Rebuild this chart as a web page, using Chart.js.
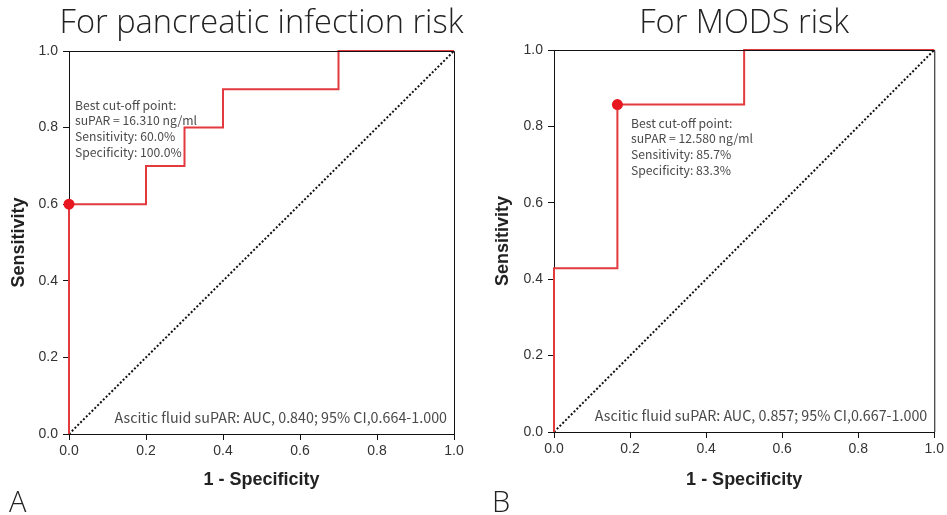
<!DOCTYPE html>
<html><head><meta charset="utf-8">
<script src="https://cdn.jsdelivr.net/npm/chart.js@4.4.1/dist/chart.umd.min.js"></script>
<style>
html,body{margin:0;padding:0;background:#fff;width:947px;height:515px;overflow:hidden;position:relative}
canvas{position:absolute;top:0}
#cA{left:0}
#cB{left:473px}
</style></head><body>
<canvas id="cA" width="473" height="515"></canvas>
<canvas id="cB" width="474" height="515"></canvas>
<script>
// ---- data ----
const tickValues = [0, 0.2, 0.4, 0.6, 0.8, 1.0];
const refLineX = [0, 1];
const refLineY = [0, 1];

const rocA_fpr = [0, 0, 0.2, 0.2, 0.3, 0.3, 0.4, 0.4, 0.7, 0.7, 1.0];
const rocA_tpr = [0, 0.6, 0.6, 0.7, 0.7, 0.8, 0.8, 0.9, 0.9, 1.0, 1.0];
const bestA = [0, 0.6];

const rocB_fpr = [0, 0, 0.1667, 0.1667, 0.5, 0.5, 1.0];
const rocB_tpr = [0, 0.4286, 0.4286, 0.8571, 0.8571, 1.0, 1.0];
const bestB = [0.1667, 0.8571];

const titleA = "For pancreatic infection risk";
const titleB = "For MODS risk";
const noteA = ["Best cut-off point:", "suPAR = 16.310 ng/ml", "Sensitivity: 60.0%", "Specificity: 100.0%"];
const noteB = ["Best cut-off point:", "suPAR = 12.580 ng/ml", "Sensitivity: 85.7%", "Specificity: 83.3%"];
const aucA = "Ascitic fluid suPAR: AUC, 0.840; 95% CI,0.664-1.000";
const aucB = "Ascitic fluid suPAR: AUC, 0.857; 95% CI,0.667-1.000";
const xTitle = "1 - Specificity";
const yTitle = "Sensitivity";

const RED = "#e23a3f";
const DOT = "#e8161e";
const TXT = "#4a4a4a";

function pts(xs, ys) { return xs.map((x, i) => ({x: x, y: ys[i]})); }

const decorPlugin = {
  id: 'decor',
  afterDraw(chart, args, o) {
    const ctx = chart.ctx, a = chart.chartArea;
    ctx.save();
    // frame top & right
    ctx.strokeStyle = "#111"; ctx.lineWidth = 1;
    ctx.beginPath();
    ctx.moveTo(a.left, a.top + 0.5); ctx.lineTo(a.right + 0.5, a.top + 0.5); ctx.lineTo(a.right + 0.5, a.bottom);
    ctx.stroke();
    // title
    ctx.fillStyle = "#222";
    ctx.font = '300 32.6px "Open Sans", "Noto Sans", sans-serif';
    ctx.textAlign = 'center'; ctx.textBaseline = 'alphabetic';
    ctx.fillText(o.title, (a.left + a.right) / 2, 33);
    // panel label
    ctx.textAlign = 'left';
    ctx.font = '300 29px "Open Sans", "Noto Sans", sans-serif';
    ctx.fillText(o.panel, o.panelX, 512);
    // note
    ctx.fillStyle = TXT;
    ctx.font = '12.2px "Noto Sans CJK SC", "Noto Sans", sans-serif';
    ctx.textBaseline = 'middle';
    o.note.forEach((t, i) => ctx.fillText(t, a.left + o.noteDX, o.noteY + i * 15.8));
    // auc
    ctx.font = '14.3px "Noto Sans CJK SC", "Noto Sans", sans-serif';
    ctx.textAlign = 'right';
    ctx.fillText(o.auc, a.right - 7, a.bottom - 16);
    ctx.restore();
  }
};

function makeChart(id, roc, best, opt) {
  return new Chart(document.getElementById(id), {
    type: 'scatter',
    data: {
      datasets: [
        { data: pts(refLineX, refLineY), showLine: true, borderColor: '#111', borderWidth: 2, borderDash: [2, 2], pointRadius: 0, fill: false, order: 3 },
        { data: roc, showLine: true, borderColor: RED, borderWidth: 2, pointRadius: 0, fill: false, order: 2 },
        { data: [best], pointRadius: 5.5, pointBackgroundColor: DOT, pointBorderColor: DOT, pointBorderWidth: 0, showLine: false, order: 1 }
      ]
    },
    options: {
      responsive: false, animation: false, devicePixelRatio: 1,
      clip: false,
      layout: { padding: { top: opt.top, right: opt.right, left: 0, bottom: 0 } },
      plugins: { legend: { display: false }, tooltip: { enabled: false }, title: { display: false }, decor: opt.decor },
      scales: {
        x: {
          type: 'linear', min: 0, max: 1,
          afterBuildTicks: s => { s.ticks = tickValues.map(v => ({value: v})); },
          afterFit: s => { s.height = opt.xh; },
          grid: { drawOnChartArea: false, drawTicks: true, tickLength: 6, color: '#111', lineWidth: 1 },
          border: { display: true, color: '#111', width: 1 },
          ticks: { padding: 3, color: '#333', font: { family: '"Liberation Sans", Arial, sans-serif', size: 14 }, callback: v => v.toFixed(1), maxRotation: 0 },
          title: { display: true, text: xTitle, color: '#222', font: { family: '"Liberation Sans", Arial, sans-serif', size: 18, weight: 'bold' }, padding: { top: 0, bottom: 24 } }
        },
        y: {
          type: 'linear', min: 0, max: 1,
          afterBuildTicks: s => { s.ticks = tickValues.map(v => ({value: v})); },
          afterFit: s => { s.width = opt.yw; },
          grid: { drawOnChartArea: false, drawTicks: true, tickLength: 6, color: '#111', lineWidth: 1 },
          border: { display: true, color: '#111', width: 1 },
          ticks: { padding: 5, color: '#333', font: { family: '"Liberation Sans", Arial, sans-serif', size: 14 }, callback: v => v.toFixed(1) },
          title: { display: true, text: yTitle, color: '#222', font: { family: '"Liberation Sans", Arial, sans-serif', size: 18, weight: 'bold' }, padding: { top: opt.ytp, bottom: 0 } }
        }
      }
    },
    plugins: [decorPlugin]
  });
}

makeChart('cA', pts(rocA_fpr, rocA_tpr), {x: bestA[0], y: bestA[1]}, {
  top: 51, right: 19, xh: 81, yw: 69, ytp: 8,
  decor: { title: titleA, panel: "A", panelX: 9, note: noteA, noteDX: 6, noteY: 105, auc: aucA }
});
makeChart('cB', pts(rocB_fpr, rocB_tpr), {x: bestB[0], y: bestB[1]}, {
  top: 50, right: 9, xh: 83, yw: 81, ytp: 19,
  decor: { title: titleB, panel: "B", panelX: 19, note: noteB, noteDX: 77, noteY: 123, auc: aucB }
});
</script>
</body></html>
